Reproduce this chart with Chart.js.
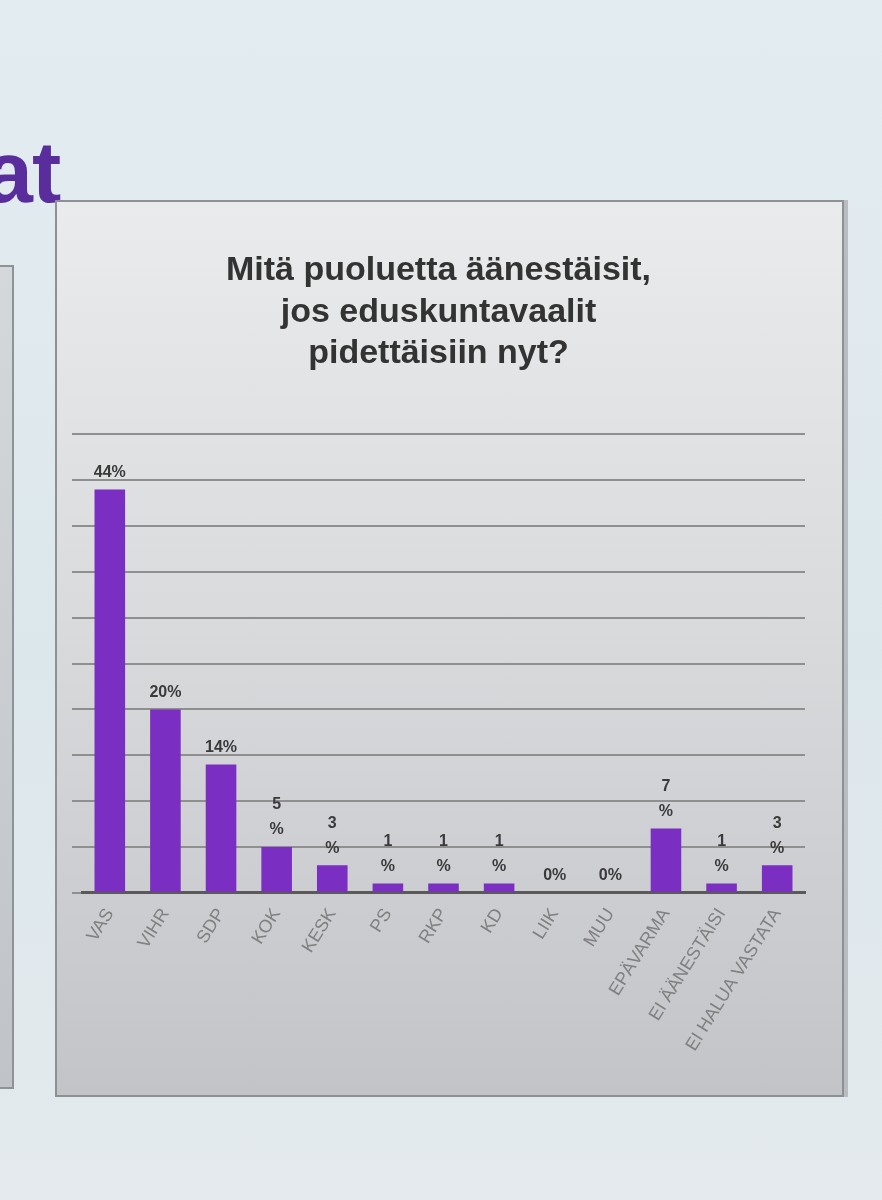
<!DOCTYPE html>
<html lang="fi">
<head>
<meta charset="utf-8">
<title>Mitä puoluetta äänestäisit</title>
<script src="https://cdn.jsdelivr.net/npm/chart.js@4.4.0/dist/chart.umd.min.js"></script>
<style>
  html, body { margin: 0; padding: 0; }
  body {
    width: 882px;
    height: 1200px;
    position: relative;
    overflow: hidden;
    background: linear-gradient(#e3ecf1, #dce7ec 55%, #e4eaee);
    font-family: "Liberation Sans", Arial, sans-serif;
  }
  #otsikko {
    position: absolute;
    left: -16px;
    top: 128px;
    font-size: 88px;
    line-height: 1;
    font-weight: bold;
    letter-spacing: -1px;
    color: #5a2d9c;
  }
  #vasenLaatikko {
    position: absolute;
    left: -20px;
    top: 265px;
    width: 30px;
    height: 820px;
    background: linear-gradient(#d4d8db, #c0c3c7);
    border: 2px solid #8e9398;
  }
  #laatikko {
    position: absolute;
    left: 55px;
    top: 200px;
    width: 785px;
    height: 893px;
    background: linear-gradient(#e9ebec, #d9dbdd 45%, #c3c4c8);
    border: 2px solid #8d9196;
    box-shadow: 4px 0 0 #b9bcc0;
  }
</style>
</head>
<body>
<div id="otsikko">at</div>
<div id="vasenLaatikko"></div>
<div id="laatikko">
  <canvas id="kaavio" width="785" height="893"></canvas>
</div>

<script>
// kysymys ja tulokset
const otsikkoRivit = ["Mitä puoluetta äänestäisit,", "jos eduskuntavaalit", "pidettäisiin nyt?"];
const puolueet = ["VAS", "VIHR", "SDP", "KOK", "KESK", "PS", "RKP", "KD", "LIIK", "MUU", "EPÄVARMA", "EI ÄÄNESTÄISI", "EI HALUA VASTATA"];
const osuudet = [44, 20, 14, 5, 3, 1, 1, 1, 0, 0, 7, 1, 3];
const asteikonMaksimi = 50;
const asteikonVali = 5;

// yksinumeroiset arvot rivittyvät kahdelle riville kuten alkuperäisessä
function merkinta(arvo) {
  if (arvo >= 10 || arvo === 0) {
    return [arvo + "%"];
  }
  return [String(arvo), "%"];
}

const arvoMerkinnat = {
  id: "arvoMerkinnat",
  afterDatasetsDraw(chart) {
    const ctx = chart.ctx;
    const meta = chart.getDatasetMeta(0);
    ctx.save();
    ctx.font = "bold 16px 'Liberation Sans', Arial, sans-serif";
    ctx.fillStyle = "#3a3a3a";
    ctx.textAlign = "center";
    ctx.textBaseline = "bottom";
    meta.data.forEach((palkki, i) => {
      const rivit = merkinta(osuudet[i]).slice().reverse();
      rivit.forEach((rivi, j) => {
        ctx.fillText(rivi, palkki.x, palkki.y - 9 - j * 25);
      });
    });
    ctx.restore();
  },
};

const kaavio = new Chart(document.getElementById("kaavio"), {
  type: "bar",
  data: {
    labels: puolueet,
    datasets: [
      {
        data: osuudet,
        backgroundColor: "#7b2fc2",
        categoryPercentage: 1,
        barPercentage: 0.55,
      },
    ],
  },
  options: {
    responsive: false,
    animation: false,
    layout: {
      padding: { top: 48, left: 15, right: 37, bottom: 36 },
    },
    plugins: {
      legend: { display: false },
      tooltip: { enabled: false },
      title: {
        display: true,
        text: otsikkoRivit,
        color: "#333333",
        font: { family: "'Liberation Sans', Arial, sans-serif", size: 34, weight: "bold", lineHeight: 1.22 },
        padding: { top: 0, bottom: 60 },
      },
    },
    scales: {
      x: {
        grid: { display: false },
        border: { display: true, color: "#5a5a5a", width: 3 },
        ticks: {
          color: "#808080",
          font: { family: "'Liberation Sans', Arial, sans-serif", size: 18 },
          minRotation: 58,
          maxRotation: 58,
          padding: 4,
        },
      },
      y: {
        min: 0,
        max: asteikonMaksimi,
        border: { display: false },
        grid: {
          color: "#8f8f8f",
          lineWidth: 2,
          drawTicks: true,
          tickLength: 10,
          tickColor: "#8f8f8f",
        },
        ticks: {
          display: false,
          stepSize: asteikonVali,
        },
      },
    },
  },
  plugins: [arvoMerkinnat],
});
</script>
</body>
</html>
